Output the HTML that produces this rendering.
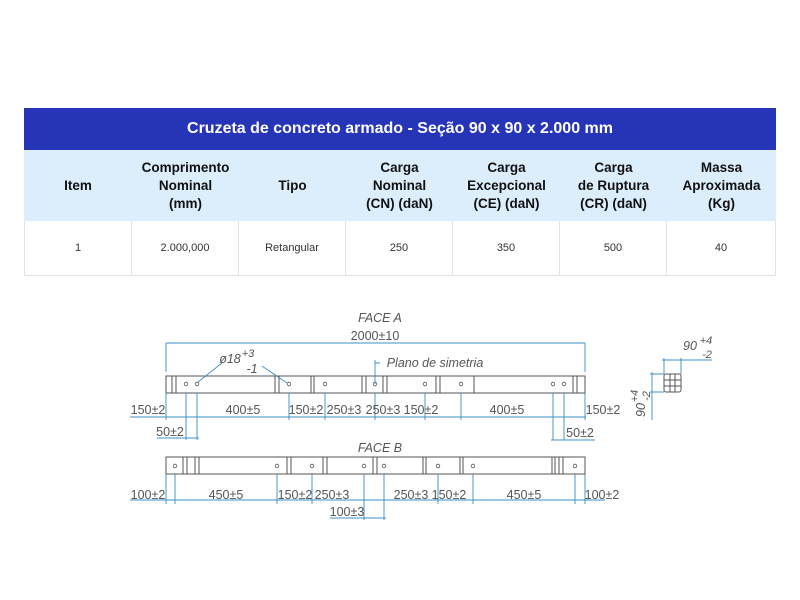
<!DOCTYPE html>
<html><head><meta charset="utf-8"><style>
body{margin:0;width:800px;height:600px;background:#fff;overflow:hidden;position:relative;font-family:"Liberation Sans",sans-serif}
.t{position:absolute;left:24px;top:108px;width:752px}
.hd{height:42px;background:#2634b8;color:#fff;font-weight:bold;font-size:16px;text-align:center;line-height:42px}
.r{display:flex}
.r div{box-sizing:border-box;display:flex;align-items:center;justify-content:center;text-align:center}
.h{height:71px;background:#dcedfb;font-weight:bold;font-size:13.5px;line-height:18px;color:#111}
.d{height:54px;font-size:11px;color:#333;border-bottom:1px solid #e3e3e3;border-left:1px solid #e3e3e3}
.d div{border-right:1px solid #e3e3e3}
</style></head><body>
<div class="t">
<div class="hd">Cruzeta de concreto armado - Seção 90 x 90 x 2.000 mm</div>
<div class="r h"><div style="width:108px">Item</div><div style="width:107px">Comprimento<br>Nominal<br>(mm)</div><div style="width:107px">Tipo</div><div style="width:107px">Carga<br>Nominal<br>(CN) (daN)</div><div style="width:107px">Carga<br>Excepcional<br>(CE) (daN)</div><div style="width:107px">Carga<br>de Ruptura<br>(CR) (daN)</div><div style="width:109px">Massa<br>Aproximada<br>(Kg)</div></div>
<div class="r d"><div style="width:107px">1</div><div style="width:107px">2.000,000</div><div style="width:107px">Retangular</div><div style="width:107px">250</div><div style="width:107px">350</div><div style="width:107px">500</div><div style="width:109px">40</div></div>
</div>
<svg width="800" height="600" style="position:absolute;left:0;top:0" font-family="Liberation Sans,sans-serif">
<g fill="none" stroke="#555" stroke-width="1">
<rect x="166" y="376" width="419" height="17"/>
<path d="M172 376V393M176 376V393M275 376V393M279 376V393M311 376V393M314 376V393M362 376V393M366 376V393M383 376V393M387 376V393M436 376V393M440 376V393M474 376V393M573 376V393M577 376V393"/>
<rect x="166" y="457" width="419" height="17"/>
<path d="M183 457V474M187 457V474M195 457V474M199 457V474M287 457V474M291 457V474M323 457V474M327 457V474M373 457V474M377 457V474M423 457V474M426 457V474M460 457V474M463 457V474M552 457V474M555 457V474M559 457V474M563 457V474"/>
<rect x="664" y="374" width="17" height="18" rx="2"/>
<path d="M664 380H681M664 386H681M670 374V392M675 374V392"/>
<g stroke-width="0.8">
<circle cx="186" cy="384" r="1.8"/><circle cx="197" cy="384" r="1.8"/><circle cx="289" cy="384" r="1.8"/><circle cx="325" cy="384" r="1.8"/><circle cx="375" cy="384" r="1.8"/><circle cx="425" cy="384" r="1.8"/><circle cx="461" cy="384" r="1.8"/><circle cx="553" cy="384" r="1.8"/><circle cx="564" cy="384" r="1.8"/>
<circle cx="175" cy="466" r="1.8"/><circle cx="277" cy="466" r="1.8"/><circle cx="312" cy="466" r="1.8"/><circle cx="364" cy="466" r="1.8"/><circle cx="384" cy="466" r="1.8"/><circle cx="438" cy="466" r="1.8"/><circle cx="473" cy="466" r="1.8"/><circle cx="575" cy="466" r="1.8"/>
</g>
</g>
<g fill="none" stroke="#3b8fc6" stroke-width="0.9">
<path d="M166 343H585M166 343V372M585 343V372"/>
<path d="M375 360V384M375 363H380"/>
<path d="M198 382L222 363M287 383L262 366"/>
<path d="M130 417H586M166 393V420M186 393V440M197 393V440M289 393V420M325 393V420M375 393V420M425 393V420M461 393V420M553 393V440M564 393V440M585 393V420M157 438H199M551 440H595"/>
<path d="M130 500H605M166 474V504M175 474V504M277 474V504M312 474V504M364 474V520M384 474V520M438 474V504M473 474V504M575 474V504M585 474V504M330 518H386"/>
<path d="M662 360H712M664 358V374M681 358V374M650 374H664M650 392H664M652 372V420"/>
</g>
<g fill="#555" font-size="12.5" text-anchor="middle">
<text x="380" y="322" font-style="italic" font-size="12.5">FACE A</text>
<text x="375" y="340">2000±10</text>
<text x="435" y="367" font-style="italic">Plano de simetria</text>
<text x="230" y="363" font-style="italic">ø18</text><text x="248" y="357" font-size="11" font-style="italic">+3</text>
<text x="252" y="373" font-style="italic">-1</text>
<text x="148" y="414">150±2</text><text x="243" y="414">400±5</text><text x="306" y="414">150±2</text><text x="344" y="414">250±3</text><text x="383" y="414">250±3</text><text x="421" y="414">150±2</text><text x="507" y="414">400±5</text><text x="603" y="414">150±2</text>
<text x="170" y="436">50±2</text><text x="580" y="437">50±2</text>
<text x="380" y="452" font-style="italic" font-size="12.5">FACE B</text>
<text x="148" y="499">100±2</text><text x="226" y="499">450±5</text><text x="295" y="499">150±2</text><text x="332" y="499">250±3</text><text x="411" y="499">250±3</text><text x="449" y="499">150±2</text><text x="524" y="499">450±5</text><text x="602" y="499">100±2</text>
<text x="347" y="516">100±3</text>
<text x="690" y="350" font-style="italic">90</text><text x="706" y="344" font-size="11" font-style="italic">+4</text><text x="707" y="358" font-size="11" font-style="italic">-2</text>
<g transform="translate(641,410) rotate(-90)"><text x="0" y="4" font-style="italic">90</text><text x="14" y="-3" font-size="11" font-style="italic">+4</text><text x="14" y="9" font-size="11" font-style="italic">-2</text></g>
</g>
</svg>
</body></html>
